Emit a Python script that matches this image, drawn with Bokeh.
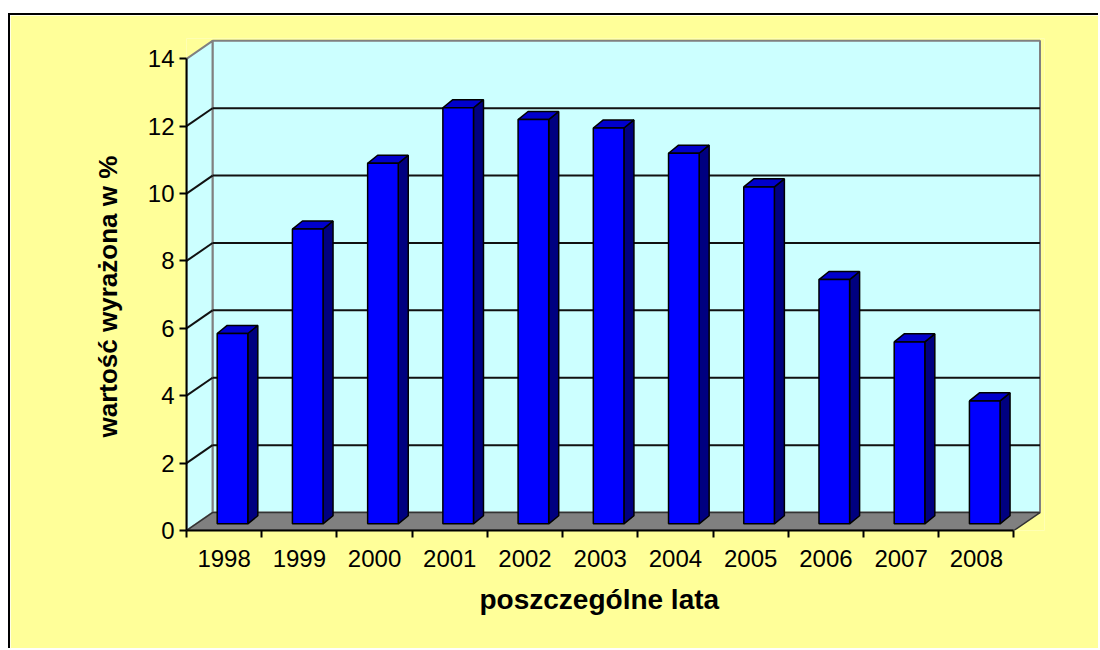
from bokeh.plotting import figure
from bokeh.models import FixedTicker, Range1d, Title
from bokeh.embed import file_html
from bokeh.resources import INLINE

# ---- data ----
years = ["1998", "1999", "2000", "2001", "2002", "2003", "2004", "2005", "2006", "2007", "2008"]
values = [5.65, 8.75, 10.7, 12.35, 12.0, 11.75, 11.0, 10.0, 7.25, 5.4, 3.65]
y_ticks = [0, 2, 4, 6, 8, 10, 12, 14]
x_title = "poszczególne lata"
y_title = "wartość wyrażona w %"

# ---- 3D geometry (data units) ----
n = len(years)
y_max = y_ticks[-1]
DX, DY = 0.346, 0.534        # full depth offset of back wall
D0 = 0.37                    # depth of bar front face (fraction of full depth)
BAR_OFF, BAR_W = 0.28, 0.407 # bar position within category
BDX, BDY = 0.133, 0.24       # bar depth offset

FONT = "Liberation Sans"
BG = "#FFFF99"
WALL = "#CCFFFF"

p = figure(width=1090, height=635,
           x_range=Range1d(0, n + DX + 0.06), y_range=Range1d(0, y_max + DY + 0.07),
           output_backend="svg", toolbar_location=None,
           min_border_left=176, min_border_right=56, min_border_top=23, min_border_bottom=120)
p.margin = (13, 0, 0, 8)
p.styles = {"border-left": "2px solid black", "border-top": "2px solid black"}
p.background_fill_color = BG
p.border_fill_color = BG
p.outline_line_color = None
p.xgrid.visible = False
p.ygrid.visible = False

# walls and floor
p.patch([DX, n + DX, n + DX, DX], [DY, DY, y_max + DY, y_max + DY],
        fill_color=WALL, line_color="#808080", line_width=2)
p.patch([0, DX, DX, 0], [0, DY, y_max + DY, y_max],
        fill_color=WALL, line_color="#808080", line_width=2)
p.patch([0, n, n + DX, DX], [0, 0, DY, DY],
        fill_color="#808080", line_color="#333333", line_width=1.5)

# gridlines
inner = [v for v in y_ticks if 0 < v < y_max]
p.segment(x0=[DX] * len(inner), y0=[v + DY for v in inner],
          x1=[n + DX] * len(inner), y1=[v + DY for v in inner],
          line_color="#111111", line_width=2)
p.segment(x0=[0] * len(inner), y0=inner,
          x1=[DX] * len(inner), y1=[v + DY for v in inner],
          line_color="#111111", line_width=2)

# bars
bx0 = [i + BAR_OFF + D0 * DX for i in range(n)]
bx1 = [x + BAR_W for x in bx0]
by0 = D0 * DY
tops = [v + by0 for v in values]
side_xs = [[b, b + BDX, b + BDX, b] for b in bx1]
side_ys = [[by0, by0 + BDY, t + BDY, t] for t in tops]
top_xs = [[a, b, b + BDX, a + BDX] for a, b in zip(bx0, bx1)]
top_ys = [[t, t, t + BDY, t + BDY] for t in tops]
p.patches(side_xs, side_ys, fill_color="#000080", line_color="black", line_width=1.5)
p.patches(top_xs, top_ys, fill_color="#0000CC", line_color="black", line_width=1.5)
p.quad(left=bx0, right=bx1, bottom=[by0] * n, top=tops,
       fill_color="#0000FF", line_color="black", line_width=1.5)

# axes
xa = p.xaxis[0]
xa.bounds = (0, n)
xa.ticker = FixedTicker(ticks=[i + 0.5 for i in range(n)], minor_ticks=list(range(n + 1)))
xa.major_label_overrides = {i + 0.5: years[i] for i in range(n)}
xa.major_tick_out = 0
xa.major_tick_in = 0
xa.minor_tick_out = 7
xa.minor_tick_in = 0
xa.minor_tick_line_color = "black"
xa.minor_tick_line_width = 2
xa.major_label_standoff = 12

ya = p.yaxis[0]
ya.bounds = (0, y_max)
ya.ticker = FixedTicker(ticks=y_ticks)
ya.major_tick_out = 7
ya.major_tick_in = 0
ya.minor_tick_line_color = None
ya.major_tick_line_width = 2
ya.major_label_standoff = 5

for ax in (xa, ya):
    ax.axis_line_color = "black"
    ax.axis_line_width = 2
    ax.major_tick_line_color = "black"
    ax.major_label_text_font = FONT
    ax.major_label_text_font_size = "24px"
    ax.major_label_text_color = "black"

# axis titles (positioned like the original, centred on the front axis)
p.add_layout(Title(text=x_title, align="left", offset=293, vertical_align="top", standoff=28,
                   text_font=FONT, text_font_size="28px", text_font_style="bold",
                   text_color="black"), "below")
p.add_layout(Title(text=y_title, align="left", offset=93, vertical_align="bottom", standoff=44,
                   text_font=FONT, text_font_size="26px", text_font_style="bold",
                   text_color="black"), "left")

open("out.html", "w").write(file_html(p, INLINE))
